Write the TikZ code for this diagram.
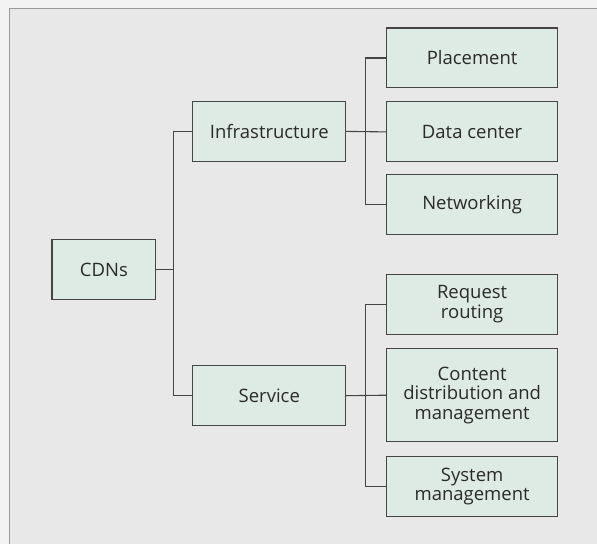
\documentclass[tikz,border=0pt]{standalone}
\usepackage{fontspec}
\setmainfont{Open Sans}
\definecolor{pagebg}{HTML}{F3F3F3}
\definecolor{panelbg}{HTML}{E8E8E8}
\definecolor{panelline}{HTML}{9A9A9A}
\definecolor{boxfill}{HTML}{DEEAE4}
\definecolor{boxline}{HTML}{454545}
\definecolor{inkgray}{HTML}{2A2A2A}
\begin{document}
\begin{tikzpicture}[x=1pt,y=-1pt,
    catbox/.style={draw=boxline, line width=1.1pt, fill=boxfill, text=inkgray,
        align=center, inner sep=0pt, font=\fontsize{18.5}{19.5}\selectfont},
    rootbox/.style={catbox, minimum width=104pt, minimum height=60pt},
    midbox/.style={catbox, minimum width=153pt, minimum height=60pt},
    leafbox/.style={catbox, minimum width=171pt, minimum height=60pt},
    branch/.style={draw=boxline, line width=1.1pt}]

    % Background and panel
    \fill[pagebg] (0,0) rectangle (597,544);
    \fill[panelbg] (9,8) rectangle (597,544);
    \draw[panelline, line width=0.9pt] (9,544) -- (9,8) -- (597,8);

    % Root
    \node[rootbox] (cdns) at (104,270) {CDNs};

    % Second level
    \node[midbox] (infra) at (269.5,131.5) {Infrastructure};
    \node[midbox] (service) at (269.5,396) {Service};

    % Leaves under Infrastructure
    \node[leafbox] (placement) at (472.5,58) {Placement};
    \node[leafbox] (datacenter) at (472.5,132) {Data center};
    \node[leafbox] (networking) at (472.5,205) {Networking};

    % Leaves under Service
    \node[leafbox] (routing) at (472.5,304.5) {Request\\routing};
    \node[leafbox, minimum height=93pt] (content) at (472.5,395.5) {Content\\distribution and\\management};
    \node[leafbox] (sysmgmt) at (472.5,487) {System\\management};

    % Connectors
    \draw[branch] (cdns.east) -- ++(17,0) |- (infra.west);
    \draw[branch] (cdns.east) -- ++(17,0) |- (service.west);

    \draw[branch] (infra.east) -- ++(19,0) |- (placement.west);
    \draw[branch] (infra.east) -- (datacenter.west);
    \draw[branch] (infra.east) -- ++(19,0) |- (networking.west);

    \draw[branch] (service.east) -- ++(19,0) |- (routing.west);
    \draw[branch] (service.east) -- (content.west);
    \draw[branch] (service.east) -- ++(19,0) |- (sysmgmt.west);
\end{tikzpicture}
\end{document}
